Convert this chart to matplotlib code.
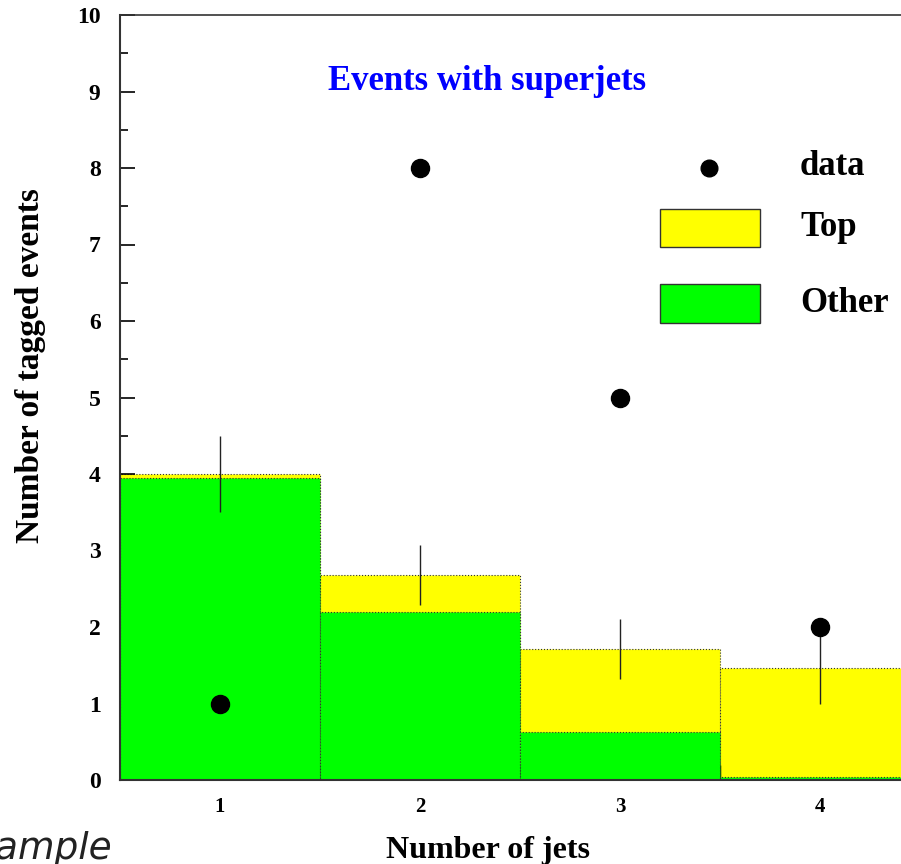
import matplotlib
matplotlib.use("Agg")
import matplotlib.pyplot as plt
from matplotlib.patches import Rectangle
import numpy as np

# histogram contents per jet-multiplicity bin
n_jets = [1, 2, 3, 4]
other = [3.95, 2.20, 0.63, 0.04]
top = [0.05, 0.48, 1.08, 1.42]
mc_err = [0.50, 0.39, 0.39, 0.47]
data = [1, 8, 5, 2]

serif = "Liberation Serif"

fig = plt.figure(figsize=(9.01, 8.64), dpi=100)
ax = fig.add_axes([120 / 901, 84 / 864, 800 / 901, 765 / 864])

x = np.array(n_jets)
total = np.array(other) + np.array(top)

# stacked histogram: total (yellow) first, then green on top of it
ax.bar(x, total, width=1.0, color="#ffff00", edgecolor="#333333",
       linewidth=0.8, linestyle=":", zorder=1)
ax.bar(x, other, width=1.0, color="#00ff00", edgecolor="#333333",
       linewidth=0.8, linestyle=":", zorder=2)
ax.errorbar(x, total, yerr=mc_err, fmt="none", ecolor="#222222",
            elinewidth=1.0, capsize=0, zorder=3)
ax.plot(x, data, "o", color="black", markersize=13, zorder=4)

ax.set_xlim(0.5, 4.5)
ax.set_ylim(0, 10)

ax.set_yticks(np.arange(0, 11, 1))
ax.set_yticks(np.arange(0.5, 10, 1), minor=True)
ax.set_xticks(n_jets)
ax.set_xticks([1.5, 2.5, 3.5], minor=True)
ax.tick_params(axis="y", which="major", direction="in", length=11, width=1.2, pad=14)
ax.tick_params(axis="y", which="minor", direction="in", length=6, width=1.2)
ax.tick_params(axis="x", which="major", length=0, pad=12)
ax.tick_params(axis="x", which="minor", direction="in", length=11, width=1.0)
for lab in ax.get_yticklabels():
    lab.set_fontfamily(serif)
    lab.set_fontweight("bold")
    lab.set_fontsize(17)
for lab in ax.get_xticklabels():
    lab.set_fontfamily(serif)
    lab.set_fontweight("bold")
    lab.set_fontsize(15)

for s in ["left", "bottom"]:
    ax.spines[s].set_linewidth(1.5)
    ax.spines[s].set_color("#333333")
ax.spines["top"].set_linewidth(1.2)
ax.spines["top"].set_color("#333333")
ax.spines["right"].set_visible(False)

ax.set_xlabel("Number of jets", fontfamily=serif, fontweight="bold",
              fontsize=23, va="center")
ax.xaxis.set_label_coords(0.46, -0.092)
ax.set_ylabel("Number of tagged events", fontfamily=serif, fontweight="bold",
              fontsize=24, va="center")
ax.yaxis.set_label_coords(-0.112, 0.542)

ax.text(0.459, 0.913, "Events with superjets", transform=ax.transAxes,
        ha="center", va="center", color="#0000ff", fontfamily=serif,
        fontweight="bold", fontsize=25)

# legend drawn by hand, ROOT style
ax.plot([0.736], [0.8], "o", color="black", markersize=12,
        transform=ax.transAxes, clip_on=False)
ax.add_patch(Rectangle((0.675, 0.697), 0.125, 0.05, transform=ax.transAxes,
                       facecolor="#ffff00", edgecolor="#333333", linewidth=1))
ax.add_patch(Rectangle((0.675, 0.598), 0.125, 0.05, transform=ax.transAxes,
                       facecolor="#00ff00", edgecolor="#333333", linewidth=1))
for ty, lab in [(0.802, "data"), (0.722, "Top"), (0.623, "Other")]:
    ax.text(0.85, ty, lab, transform=ax.transAxes, ha="left", va="center",
            fontfamily=serif, fontweight="bold", fontsize=25)

fig.text(113 / 901, 5 / 864, "Example", ha="right", va="baseline",
         fontsize=27, style="italic", family="DejaVu Sans", color="#222222")

fig.savefig("out.png", dpi=100)
